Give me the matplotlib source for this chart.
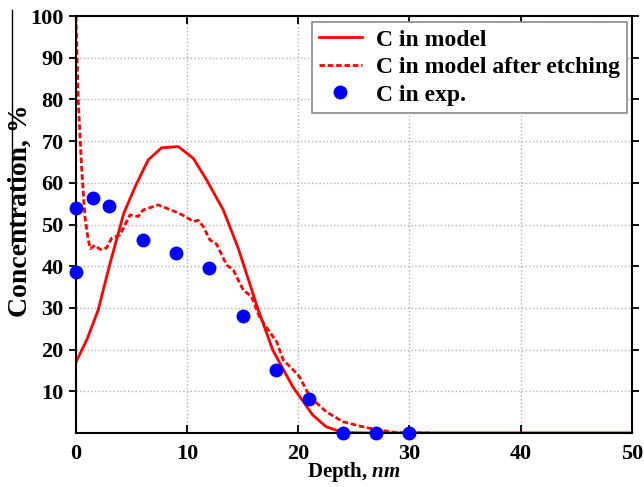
import matplotlib
matplotlib.use("Agg")
import matplotlib.pyplot as plt
from matplotlib.lines import Line2D

plt.rcParams['font.family'] = ['Liberation Serif', 'DejaVu Serif']
plt.rcParams['font.weight'] = 'bold'
plt.rcParams['mathtext.fontset'] = 'custom'
plt.rcParams['mathtext.it'] = 'Liberation Serif:italic:bold'
plt.rcParams['mathtext.rm'] = 'Liberation Serif:bold'

model_x = [0, 1, 2, 3, 4.3, 5.4, 6.5, 7.7, 9.2, 10.55, 11.75, 13.25, 14.6, 16.4, 17.7, 19.5, 21.3, 22.5, 24, 26, 30, 40, 50]
model_y = [17, 22.5, 29.5, 40, 52.7, 59.5, 65.5, 68.4, 68.7, 65.9, 60.7, 53.5, 44.3, 29.5, 19.9, 11.1, 4.3, 1.5, 0.1, 0, 0, 0, 0]

etch_x = [0, 0.2, 0.5, 0.8, 1.1, 1.3, 1.7, 2.2, 2.76, 3.2, 3.96, 4.86, 5.6, 6.05, 7.4, 8.9, 9.8, 10.55, 11.0, 11.45, 12.05, 12.65,
          13.55, 14.15, 15.05, 15.8, 16.5, 17.3, 18.05, 18.65, 19.55, 20.1, 21.05, 22.5, 24.0, 25.6, 27.0, 28.8, 31.8]
etch_y = [100, 80, 64, 52, 46.3, 44.2, 45, 44, 44.4, 46.7, 47.5, 52.3, 51.9, 53.5, 54.7, 53.1, 52, 50.7, 51, 49.5, 46.3, 45.3,
          40.3, 39.1, 34.3, 32.7, 27.9, 24.7, 21.9, 17.5, 15.1, 13.5, 8.7, 5.1, 2.7, 1.6, 0.8, 0.1, 0]

exp_x = [0, 0, 1.5, 3, 6, 9, 12, 15, 18, 21, 24, 27, 30]
exp_y = [54, 38.7, 56.3, 54.4, 46.4, 43.2, 39.6, 28.1, 15.1, 8.1, 0, 0, 0]

xticks = [0, 10, 20, 30, 40, 50]
yticks = [10, 20, 30, 40, 50, 60, 70, 80, 90, 100]

fig = plt.figure(figsize=(6.44, 4.87), dpi=100)
ax = fig.add_axes([0.118, 0.111, 0.863, 0.856])

ax.plot(model_x, model_y, color='red', lw=2.0, label='C in model')
ax.plot(etch_x, etch_y, color='red', lw=2.0, ls=(0, (2, 1)), label='C in model after etching')
ax.plot(exp_x, exp_y, 'o', color='blue', ms=9, label='C in exp.', clip_on=False, zorder=5)

ax.set_xlim(0, 50)
ax.set_ylim(0, 100)
ax.set_xticks(xticks)
ax.set_yticks(yticks)
ax.grid(True, ls=':', color='#b0b0b0', lw=1.0)
for s in ax.spines.values():
    s.set_linewidth(1.5)
ax.tick_params(axis='x', which='both', direction='in', length=6, width=1.3, top=True, labelsize=16, pad=8)
ax.tick_params(axis='y', which='both', direction='out', length=5, width=1.3, right=True, labelsize=16, pad=4)
for lab in ax.get_xticklabels() + ax.get_yticklabels():
    lab.set_fontweight('bold')

ax.set_xlabel(r'Depth, $\mathit{nm}$', fontsize=15, fontweight='bold', va='center')
ax.xaxis.set_label_coords(0.5, -0.0935)
ax.set_ylabel('Concentration, %', fontsize=20, fontweight='bold', va='center')
ax.yaxis.set_label_coords(-0.1007, 0.532)

leg = ax.legend(loc='upper right', bbox_to_anchor=(0.991, 0.9856), fontsize=17, frameon=True, fancybox=False,
                edgecolor='#888888', framealpha=1, handlelength=1.8, borderpad=0.3, labelspacing=0.25,
                handletextpad=0.6, borderaxespad=0.0)
for t in leg.get_texts():
    t.set_fontweight('bold')
leg.get_frame().set_linewidth(1.2)

fig.add_artist(Line2D([12 / 644, 12 / 644], [1 - 10 / 487, 1 - 245 / 487], transform=fig.transFigure,
                      color='black', lw=1.0))

fig.savefig('out.png', dpi=100)
